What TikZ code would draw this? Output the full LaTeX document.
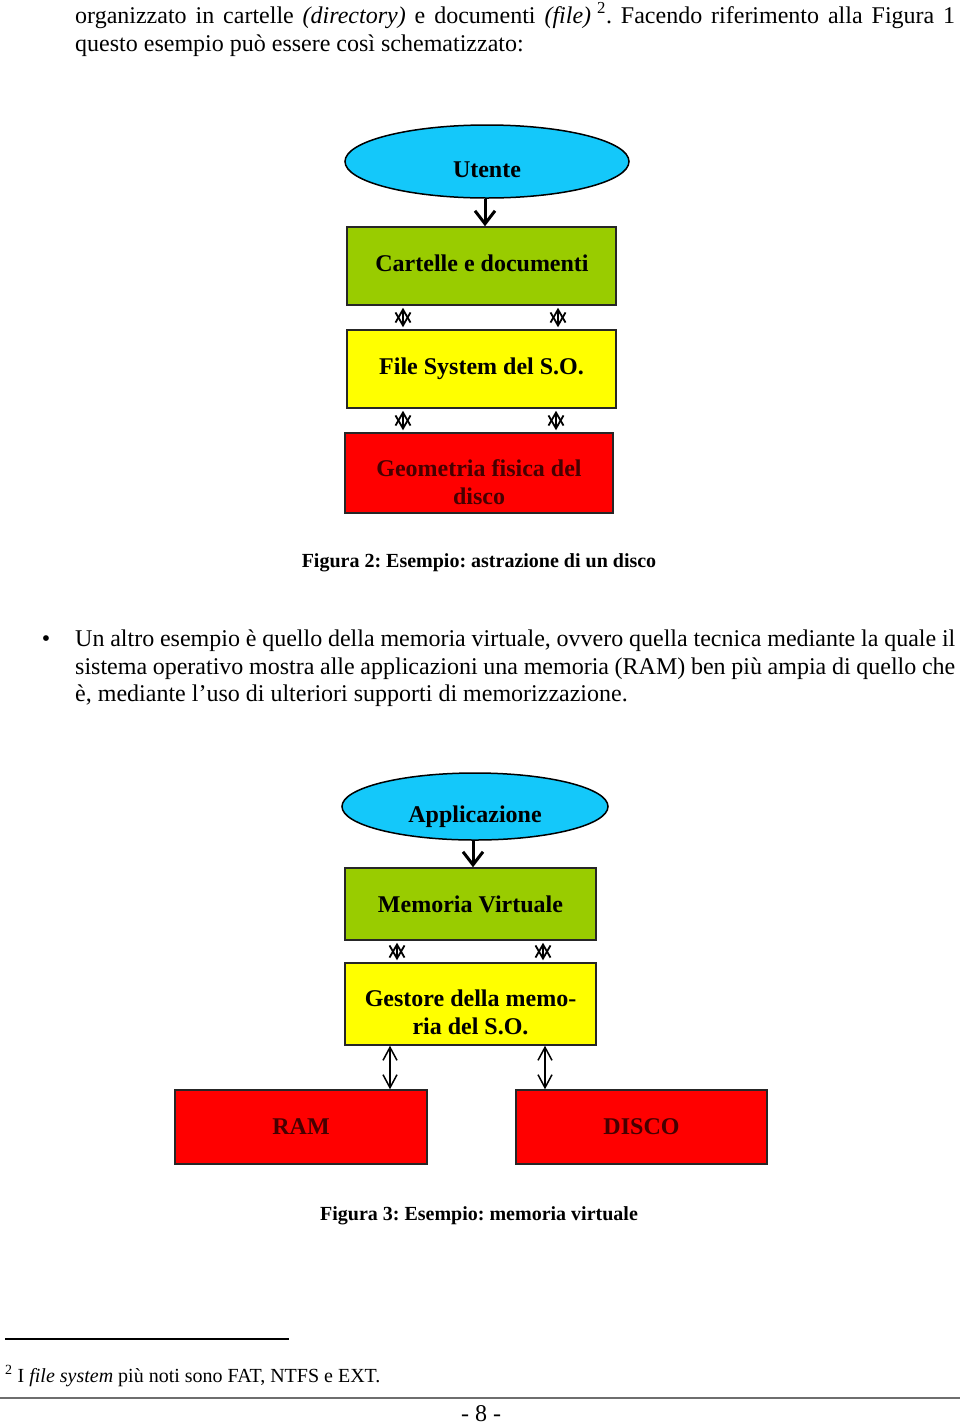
\documentclass[tikz,border=0pt]{standalone}
\usepackage{fontspec}
\setmainfont{Liberation Serif}
\usetikzlibrary{shapes.geometric,arrows.meta}
\definecolor{cyanE}{RGB}{20,200,250}
\definecolor{greenB}{RGB}{153,204,0}
\definecolor{yellowB}{RGB}{255,255,0}
\definecolor{redB}{RGB}{255,0,0}
\definecolor{darkredT}{RGB}{70,0,0}
\definecolor{ruleG}{RGB}{110,110,110}
\frenchspacing
\begin{document}
\begin{tikzpicture}[x=1pt,y=-1pt,
  body/.style={font=\fontsize{24}{28}\selectfont, inner sep=0, anchor=base west},
  ell/.style={ellipse, draw=black, line width=1.5pt, fill=cyanE, inner sep=0},
  lab/.style={font=\fontsize{24}{28}\selectfont\bfseries, inner sep=0, align=center},
  box/.style={rectangle, draw=black!85, line width=1.5pt, inner sep=0,
    font=\fontsize{24}{28}\selectfont\bfseries, align=center},
  captext/.style={font=\fontsize{20}{24}\selectfont\bfseries, inner sep=0, anchor=base},
  mainarrow/.style={line width=3pt, -{Straight Barb[length=13pt,width=20pt,line width=3pt]}},
  tinyarrow/.style={line width=1.8pt, shorten <=2pt, shorten >=2pt,
    {Straight Barb[length=13pt,width=15pt]}-{Straight Barb[length=13pt,width=15pt]}},
  longarrow/.style={line width=1.5pt,
    {Straight Barb[length=13pt,width=14pt]}-{Straight Barb[length=13pt,width=14pt]}}
]
\useasboundingbox (0,0) rectangle (960,1425);
\fill[white] (0,0) rectangle (960,1425);

% top text
\node[body] (t1) at (75,23) {\makebox[880pt][s]{organizzato in cartelle \textit{(directory)} e documenti \textit{(file)}\hspace{6pt}\textsuperscript{2}. Facendo riferimento alla Figura 1}};
\node[body] (t2) at (75,51) {questo esempio può essere così schematizzato:};

% Figure 2
\node[ell, minimum width=284pt, minimum height=73pt] (u) at (487,161.5) {};
\node[lab] (ut) at (487,170) {Utente};
\node[box, fill=greenB, minimum width=269pt, minimum height=78pt] (c) at (481.5,266) {};
\node[lab] (ct) at (482,263) {Cartelle e documenti};
\node[box, fill=yellowB, minimum width=269pt, minimum height=78pt] (f) at (481.5,369) {File System del S.O.};
\node[box, fill=redB, minimum width=268pt, minimum height=80pt] (g) at (479,473) {};
\node[lab, text=darkredT] (gt) at (479,482) {Geometria fisica del\\disco};

\draw[mainarrow] (u.south -| 485,0) -- (c.north -| 485,0);
\draw[tinyarrow] (c.south -| 403,0) -- (f.north -| 403,0);
\draw[tinyarrow] (c.south -| 558,0) -- (f.north -| 558,0);
\draw[tinyarrow] (f.south -| 403,0) -- (g.north -| 403,0);
\draw[tinyarrow] (f.south -| 556,0) -- (g.north -| 556,0);

\node[captext] (cap2) at (479,567) {Figura 2: Esempio: astrazione di un disco};

% bullet paragraph
\node[body, anchor=base] (bul) at (46,646) {\textbullet};
\node[body] (p1) at (75,646) {\makebox[880pt][s]{Un altro esempio è quello della memoria virtuale, ovvero quella tecnica mediante la quale il}};
\node[body] (p2) at (75,674) {\makebox[880pt][s]{sistema operativo mostra alle applicazioni una memoria (RAM) ben più ampia di quello che}};
\node[body] (p3) at (75,701) {è, mediante l’uso di ulteriori supporti di memorizzazione.};

% Figure 3
\node[ell, minimum width=266pt, minimum height=67pt] (a) at (475,806.5) {};
\node[lab] (at) at (475,817) {Applicazione};
\node[box, fill=greenB, minimum width=251pt, minimum height=72pt] (m) at (470.5,904) {Memoria Virtuale};
\node[box, fill=yellowB, minimum width=251pt, minimum height=82pt] (gs) at (470.5,1004) {};
\node[lab] (gst) at (470.5,1012) {Gestore della memo-\\ria del S.O.};
\node[box, fill=redB, minimum width=252pt, minimum height=74pt, text=darkredT] (r) at (301,1127) {RAM};
\node[box, fill=redB, minimum width=251pt, minimum height=74pt, text=darkredT] (d) at (641.5,1127) {DISCO};

\draw[mainarrow] (a.south -| 473,0) -- (m.north -| 473,0);
\draw[tinyarrow] (m.south -| 397,0) -- (gs.north -| 397,0);
\draw[tinyarrow] (m.south -| 543,0) -- (gs.north -| 543,0);
\draw[longarrow] (gs.south -| 390,0) -- (r.north -| 390,0);
\draw[longarrow] (gs.south -| 545,0) -- (d.north -| 545,0);

\node[captext] (cap3) at (479,1220) {Figura 3: Esempio: memoria virtuale};

% footnote
\coordinate (fr1) at (5,1339);
\coordinate (fr2) at (289,1339);
\draw[line width=1.2pt] (fr1) -- (fr2);
\node[font=\fontsize{20}{24}\selectfont, inner sep=0, anchor=base west] (fn) at (5,1382) {\textsuperscript{2} I \textit{file system} più noti sono FAT, NTFS e EXT.};
\coordinate (br1) at (0,1398);
\coordinate (br2) at (960,1398);
\draw[ruleG, line width=2pt] (br1) -- (br2);
\node[body, anchor=base] (pn) at (481,1421) {- 8 -};
\end{tikzpicture}
\end{document}
